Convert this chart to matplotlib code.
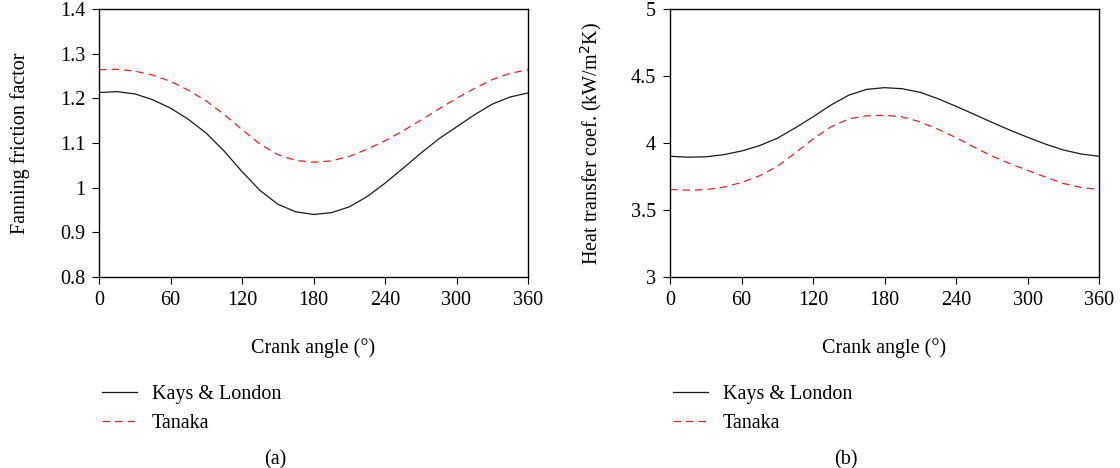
import numpy as np
import matplotlib
matplotlib.use('Agg')
import matplotlib.pyplot as plt
from matplotlib import rcParams

rcParams.update({
    'font.family': 'Liberation Serif',
    'font.size': 14.5,
    'axes.linewidth': 1.0,
    'xtick.direction': 'out', 'ytick.direction': 'out',
    'xtick.major.size': 5, 'ytick.major.size': 5,
})

# crank angle (deg)
angle = [0, 15, 30, 45, 60, 75, 90, 105, 120, 135, 150, 165, 180,
         195, 210, 225, 240, 255, 270, 285, 300, 315, 330, 345, 360]

# (a) Fanning friction factor
kl_friction = [1.213, 1.215, 1.210, 1.197, 1.178, 1.153, 1.122, 1.082, 1.036,
               0.994, 0.963, 0.946, 0.940, 0.944, 0.957, 0.980, 1.010, 1.043,
               1.077, 1.109, 1.136, 1.163, 1.187, 1.203, 1.212]
tk_friction = [1.264, 1.265, 1.261, 1.252, 1.238, 1.218, 1.194, 1.164, 1.130,
               1.098, 1.074, 1.061, 1.057, 1.060, 1.070, 1.086, 1.105, 1.127,
               1.151, 1.176, 1.200, 1.222, 1.242, 1.256, 1.264]

# (b) heat transfer coefficient (kW/m2K)
kl_heat = [3.901, 3.894, 3.897, 3.913, 3.940, 3.980, 4.035, 4.112, 4.195,
           4.283, 4.357, 4.400, 4.413, 4.405, 4.378, 4.330, 4.274, 4.215,
           4.155, 4.097, 4.043, 3.992, 3.948, 3.918, 3.901]
tk_heat = [3.653, 3.648, 3.652, 3.670, 3.705, 3.755, 3.825, 3.925, 4.030,
           4.120, 4.180, 4.203, 4.207, 4.195, 4.157, 4.102, 4.040, 3.970,
           3.903, 3.847, 3.796, 3.746, 3.698, 3.668, 3.653]

x_ticks = [0, 60, 120, 180, 240, 300, 360]

fig = plt.figure(figsize=(11.2, 4.68), dpi=100)
ax1 = fig.add_axes([99 / 1120, 1 - 277 / 468, 429 / 1120, 268 / 468])
ax2 = fig.add_axes([670 / 1120, 1 - 277 / 468, 429 / 1120, 268 / 468])

panels = [
    (ax1, kl_friction, tk_friction, (0.8, 1.4), [0.8, 0.9, 1, 1.1, 1.2, 1.3, 1.4],
     ['0.8', '0.9', '1', '1.1', '1.2', '1.3', '1.4'], 'Fanning friction factor', '(a)'),
    (ax2, kl_heat, tk_heat, (3, 5), [3, 3.5, 4, 4.5, 5],
     ['3', '3.5', '4', '4.5', '5'], r'Heat transfer coef. (kW/m$^2$K)', '(b)'),
]

for ax, kl, tk, ylim, yt, ytl, ylab, tag in panels:
    ax.plot(angle, kl, color='#1a1a1a', lw=0.9, label='Kays & London')
    ax.plot(angle, tk, color='#e8231f', lw=0.9, ls=(0, (6, 4)), label='Tanaka')
    ax.set_xlim(0, 360)
    ax.set_ylim(*ylim)
    ax.set_xticks(x_ticks)
    ax.set_yticks(yt)
    ax.set_yticklabels(ytl)
    ax.set_xlabel('Crank angle (°)')
    ax.set_ylabel(ylab)
    ax.xaxis.set_label_coords(0.5, (277 - 348) / 268)
    ax.yaxis.set_label_coords(-0.183, 0.5)
    ax.xaxis.label.set_va('center')
    ax.yaxis.label.set_va('center')
    ax.tick_params(pad=5)
    pos = ax.get_position()
    ax.legend(loc='upper left', bbox_to_anchor=(pos.x0 - 0.006, 1 - 375 / 468),
              bbox_transform=fig.transFigure, frameon=False, borderpad=0,
              handlelength=1.7, handletextpad=0.75, labelspacing=0.5)
    fig.text(pos.x0 + pos.width * 0.41, 1 - 460 / 468, tag, ha='center', va='center')

fig.savefig('out.png', dpi=100)
